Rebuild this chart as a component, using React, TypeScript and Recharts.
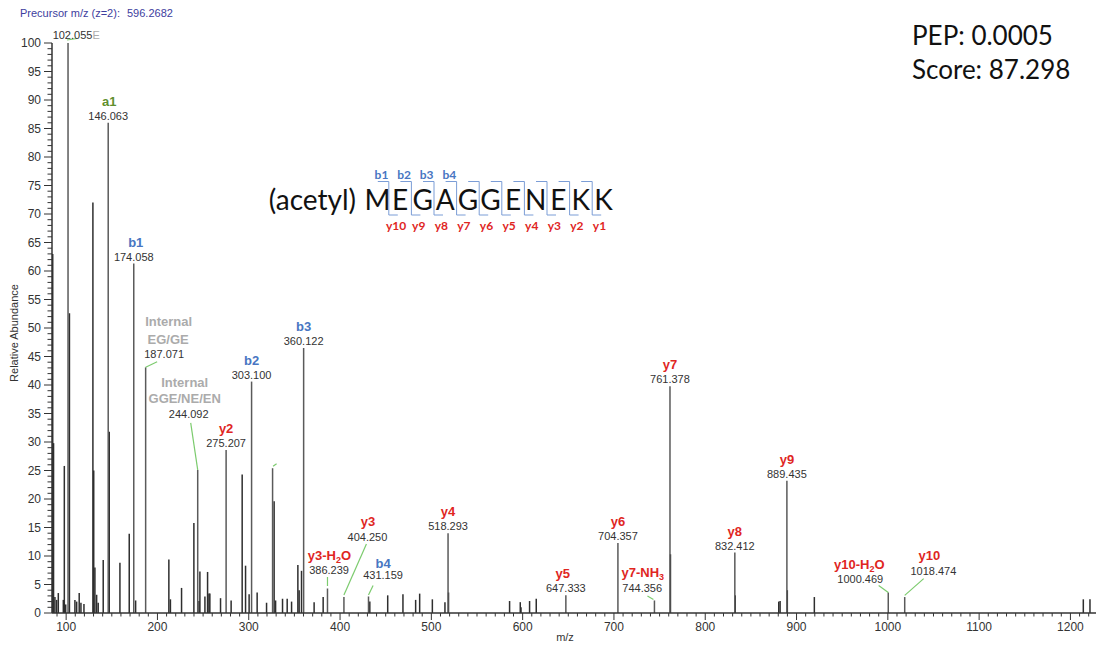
import React from 'react';
import { ComposedChart, XAxis, YAxis, Scatter, ReferenceLine } from 'recharts';

const W = 1096;
const H = 647;

// unassigned peaks, [m/z, relative abundance]
const lowMassPeaks: [number, number][] = [
  [85.3, 63], [86.2, 29.8], [87.7, 2.8], [89.6, 2.3], [91.4, 3.5], [96.9, 2.3], [98, 25.8], [99.5, 1.5],
  [103.6, 52.6], [109.6, 2.3], [111.5, 2], [114.3, 3.5], [116.2, 1.8], [119.5, 1.6],
  [129.3, 72], [130.2, 25], [131.5, 8], [133.4, 3.2], [135.1, 1.8], [140.6, 9.3], [147.2, 31.8],
  [158.9, 8.8], [169.1, 13.9], [176.1, 2.2],
];
const midMassPeaks: [number, number][] = [
  [212.5, 9.4], [214.2, 2.4], [226.4, 4.4], [239.9, 15.8], [245.5, 2.1], [246.5, 7.3], [252, 2.9],
  [254.9, 7.2], [256.4, 3.4], [257.4, 3.4], [269.1, 2.6], [280.7, 2.2], [292.8, 24.3], [296.5, 8.3],
  [300.4, 3.3], [309.2, 3.6], [319.5, 1.8], [327.8, 19.6], [329.4, 2.2], [337, 2.5], [342.1, 2.5],
  [346.9, 2], [353.8, 8.4], [355.2, 4], [357.8, 7.4], [371.6, 1.9], [381.5, 2.8], [432.6, 2],
  [452.2, 3.1], [468.9, 3.3], [482.8, 2.3], [487.2, 3.4], [501.1, 2.4], [514.9, 1.9], [518.8, 3.6],
];
const highMassPeaks: [number, number][] = [
  [585.7, 2.1], [597.4, 1.9], [598.2, 1], [607.6, 2.1], [614.9, 2.5], [761.9, 10.3], [832.9, 3.1],
  [880.5, 2], [882, 2.1], [889.9, 4], [919.5, 2.8], [1214.1, 2.4], [1221.4, 2.4],
];

// assigned fragment ions
const ionNames = [
  '', 'a1', 'b1', 'Internal EG/GE', 'Internal GGE/NE/EN', 'y2', 'b2', '', 'b3', 'y3-H2O', 'y3',
  'b4', 'y4', 'y5', 'y6', 'y7-NH3', 'y7', 'y8', 'y9', 'y10-H2O', 'y10',
];
const ionMz = [
  102.055, 146.063, 174.058, 187.071, 244.092, 275.207, 303.1, 326.1, 360.122, 386.239, 404.25,
  431.159, 518.293, 647.333, 704.357, 744.356, 761.378, 832.412, 889.435, 1000.469, 1018.474,
];
const ionAbundance = [
  100, 86, 61.3, 43.1, 25.1, 28.6, 40.6, 25.4, 46.5, 4.3, 2.8, 2.9, 14, 3.1, 12.3, 2.2, 39.8, 10.6,
  23.2, 3.6, 2.8,
];

const xTickLabels = [100, 200, 300, 400, 500, 600, 700, 800, 900, 1000, 1100, 1200];
const yTickLabels = [0, 5, 10, 15, 20, 25, 30, 35, 40, 45, 50, 55, 60, 65, 70, 75, 80, 85, 90, 95, 100];

const precursorLabel = 'Precursor m/z (z=2):';
const precursorMz = '596.2682';
const pepText = 'PEP: 0.0005';
const scoreText = 'Score: 87.298';
const modification = '(acetyl)';
const residues = ['M', 'E', 'G', 'A', 'G', 'G', 'E', 'N', 'E', 'K', 'K'];
const bIonsShown = 4;

// minor ticks every 10 (x) and every 1 (y)
const xTicks: number[] = [];
for (let v = 90; v <= 1220; v += 10) xTicks.push(v);
const yTicks: number[] = [];
for (let v = 0; v <= 100; v++) yTicks.push(v);

const ionData = ionMz.map((mz, idx) => ({ mz, intensity: ionAbundance[idx], idx }));
const allPeaks = [...lowMassPeaks, ...midMassPeaks, ...highMassPeaks];

const FONT = '"Liberation Sans", Arial, sans-serif';
const RED = '#e0261f';
const BLUE = '#4876c2';
const GREEN = '#5f8f2e';
const GRAY = '#ababab';
const LEADER = '#7ccb6e';

// label placement relative to the peak top (px)
type LabelLayout = {
  lines?: [number, number][];
  value?: [number, number] | null;
  leader?: [number, number, number, number];
  anchor?: 'start' | 'middle';
  suffix?: string;
};
const ionLabelLayout: LabelLayout[] = [
  { value: [-15.4, -3.7], anchor: 'start', suffix: 'E', leader: [-1, -3, 9, -4.5] },
  { lines: [[1, -17]] },
  { lines: [[2, -17]] },
  { lines: [[23, -41], [22.5, -23.5]], value: [18.5, -9.7], leader: [0, 0, 11.5, -5.6] },
  { lines: [[-13, -83], [-13, -66.5]], value: [-9, -51.7], leader: [0, 0, -7, -47] },
  {},
  {},
  { lines: [], value: null, leader: [0.5, -2, 4, -4.5] },
  {},
  { lines: [[2, -28.5]], value: [1.6, -14], leader: [0, -2.5, 0, -11.5] },
  { lines: [[24, -71]], value: [23.5, -56], leader: [0, -2, 22.5, -53] },
  { lines: [[14.6, -28.5]], value: [14.6, -17.2], leader: [0, -1.5, 4.6, -11] },
  {},
  { lines: [[-3, -17]] },
  {},
  { lines: [[-11.6, -23]], value: [-12.2, -8], leader: [-1, -1, -7, -4.5] },
  {},
  {},
  {},
  { lines: [[-29, -23.7]], value: [-28, -9.4], leader: [-9.6, -7, 0, 0] },
  { lines: [[24.7, -36.7]], value: [28.7, -21.7], leader: [0, -1.7, 19, -18.4] },
];

function nameColor(name: string) {
  if (name.startsWith('y')) return RED;
  if (name.startsWith('b')) return BLUE;
  if (name.startsWith('a')) return GREEN;
  return GRAY;
}

function IonName({ text }: { text: string }) {
  const m = text.match(/^(.*?-)([A-Z]+)(\d)([A-Z]*)$/);
  if (!m) return <>{text}</>;
  return (
    <>
      {m[1]}
      {m[2]}
      <tspan dy={3} fontSize={9}>{m[3]}</tspan>
      <tspan dy={-3}>{m[4] || ''}</tspan>
    </>
  );
}

function IonLabel(props: any) {
  const { cx, cy, payload } = props;
  if (cx == null || cy == null) return null;
  const i = payload.idx;
  const lay = ionLabelLayout[i] || {};
  const name = ionNames[i];
  const lines = lay.lines ?? [[0, -17]];
  const value = lay.value === undefined ? [0, -3] : lay.value;
  const parts = name ? name.split(' ') : [];
  return (
    <g>
      {lay.leader && (
        <line
          x1={cx + lay.leader[0]}
          y1={cy + lay.leader[1]}
          x2={cx + lay.leader[2]}
          y2={cy + lay.leader[3]}
          stroke={LEADER}
          strokeWidth={1.2}
        />
      )}
      {parts.map((p, k) =>
        lines[k] ? (
          <text
            key={k}
            x={cx + lines[k][0]}
            y={cy + lines[k][1]}
            textAnchor="middle"
            fontFamily={FONT}
            fontWeight="bold"
            fontSize={13}
            fill={nameColor(name)}
          >
            <IonName text={p} />
          </text>
        ) : null
      )}
      {value && (
        <text
          x={cx + value[0]}
          y={cy + value[1]}
          textAnchor={lay.anchor ?? 'middle'}
          fontFamily={FONT}
          fontSize={11}
          fill="#333"
        >
          {payload.mz.toFixed(3)}
          {lay.suffix && <tspan fill={GRAY}>{lay.suffix}</tspan>}
        </text>
      )}
    </g>
  );
}

function XTick(props: any) {
  const { x, y, payload } = props;
  const v = payload.value;
  const major = xTickLabels.includes(v);
  return (
    <g>
      <line x1={x} x2={x} y1={y} y2={y + (major ? 7 : 3.5)} stroke="#333" strokeWidth={1} />
      {major && (
        <text x={x} y={y + 18} textAnchor="middle" fontFamily={FONT} fontSize={12} fill="#333">
          {v}
        </text>
      )}
    </g>
  );
}

function YTick(props: any) {
  const { x, y, payload } = props;
  const v = payload.value;
  const major = yTickLabels.includes(v);
  return (
    <g>
      <line x1={x - (major ? 8 : 4.5)} x2={x} y1={y} y2={y} stroke="#333" strokeWidth={1} />
      {major && (
        <text x={x - 11} y={y + 4} textAnchor="end" fontFamily={FONT} fontSize={12} fill="#333">
          {v}
        </text>
      )}
    </g>
  );
}

function Peptide() {
  const x0 = 377.5;
  const step = 22.6;
  const base = 210;
  const lx = (i: number) => x0 + i * step;
  return (
    <g>
      <text x={356} y={base} textAnchor="end" fontFamily="Lato, sans-serif" fontSize={28} fill="#111">
        {modification}
      </text>
      {residues.map((r, i) => (
        <text key={i} x={lx(i)} y={base} textAnchor="middle" fontFamily="Lato, sans-serif" fontSize={28} fill="#111">
          {r}
        </text>
      ))}
      {residues.slice(0, -1).map((_, k) => {
        const bx = lx(k) + step / 2;
        return (
          <g key={k}>
            <polyline
              points={`${bx - 11},181.5 ${bx},181.5 ${bx},215 ${bx + 9},215`}
              fill="none"
              stroke="#7b9dd6"
              strokeWidth={1}
            />
            {k < bIonsShown && (
              <text x={lx(k) + 4} y={179} textAnchor="middle" fontFamily="Lato, sans-serif" fontWeight="bold" fontSize={12} fill={BLUE}>
                {`b${k + 1}`}
              </text>
            )}
            <text x={lx(k + 1) - 4} y={230} textAnchor="middle" fontFamily="Lato, sans-serif" fontWeight="bold" fontSize={12} fill={RED}>
              {`y${residues.length - 1 - k}`}
            </text>
          </g>
        );
      })}
    </g>
  );
}

export default function App() {
  return (
    <div style={{ position: 'absolute', left: 0, top: 0, width: W, height: H, background: '#fff' }}>
      <ComposedChart width={W} height={H} margin={{ top: 43, right: 0, bottom: 0, left: 0 }}>
        <XAxis
          dataKey="mz"
          type="number"
          domain={[84.5, 1228]}
          ticks={xTicks}
          interval={0}
          tick={<XTick />}
          tickLine={false}
          tickSize={0}
          tickMargin={0}
          height={34}
          axisLine={{ stroke: '#333', strokeWidth: 1.5 }}
        />
        <YAxis
          dataKey="intensity"
          type="number"
          domain={[0, 100]}
          ticks={yTicks}
          interval={0}
          tick={<YTick />}
          tickLine={false}
          tickSize={0}
          tickMargin={0}
          width={52}
          axisLine={{ stroke: '#333', strokeWidth: 1.5 }}
        />
        {allPeaks.map(([mz, ab], i) => (
          <ReferenceLine
            key={'p' + i}
            segment={[{ x: mz, y: 0 }, { x: mz, y: ab }]}
            stroke="#2e2e2e"
            strokeWidth={1.5}
          />
        ))}
        {ionData.map((d) => (
          <ReferenceLine
            key={'i' + d.idx}
            segment={[{ x: d.mz, y: 0 }, { x: d.mz, y: d.intensity }]}
            stroke="#5a5a5a"
            strokeWidth={1.5}
          />
        ))}
        <Scatter data={ionData} dataKey="intensity" shape={<IonLabel />} isAnimationActive={false} />
      </ComposedChart>
      <svg width={W} height={H} style={{ position: 'absolute', left: 0, top: 0, pointerEvents: 'none' }}>
        <text x={20} y={17} fontFamily={FONT} fontSize={11} fill="#3d3d9e">
          {precursorLabel}
        </text>
        <text x={127} y={17} fontFamily={FONT} fontSize={11} fill="#3d3d9e">
          {precursorMz}
        </text>
        <text x={912} y={44.5} fontFamily="Lato, sans-serif" fontSize={26} fill="#111">
          {pepText}
        </text>
        <text x={912} y={78.5} fontFamily="Lato, sans-serif" fontSize={26} fill="#111">
          {scoreText}
        </text>
        <Peptide />
        <text
          x={15}
          y={333}
          transform="rotate(-90 15 333)"
          textAnchor="middle"
          dominantBaseline="middle"
          fontFamily={FONT}
          fontSize={11}
          fill="#333"
        >
          Relative Abundance
        </text>
        <text x={565} y={641} textAnchor="middle" fontFamily={FONT} fontSize={11} fill="#333">
          m/z
        </text>
      </svg>
    </div>
  );
}
